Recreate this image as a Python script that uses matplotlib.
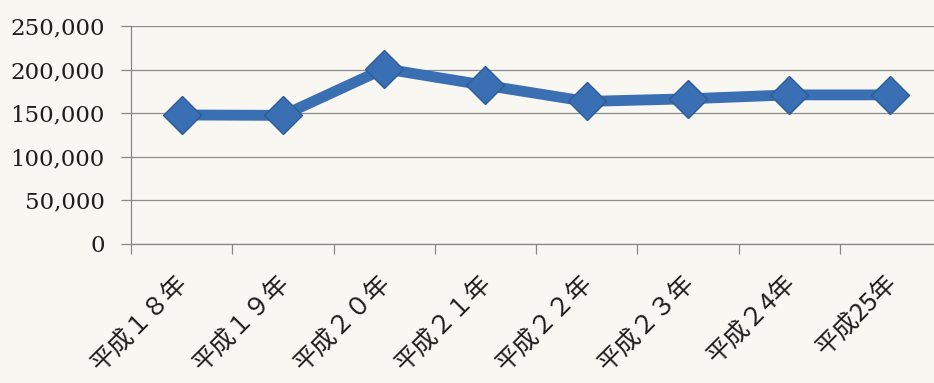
import matplotlib
matplotlib.use("Agg")
from matplotlib import pyplot as plt
from matplotlib import transforms
import numpy as np

years = ["平成１８年", "平成１９年", "平成２０年", "平成２１年",
         "平成２２年", "平成２３年", "平成２4年", "平成25年"]
counts = [148000, 147500, 201000, 182000, 163500, 166500, 171000, 171000]
yticks = [0, 50000, 100000, 150000, 200000, 250000]

paper = "#f8f7f1"
blue = "#3b6fb3"

fig = plt.figure(figsize=(9.34, 3.83), dpi=100, facecolor=paper)
ax = fig.add_axes([131/934, 139/383, 810/934, 218/383])
ax.set_facecolor(paper)

x = np.arange(len(years))
ax.plot(x, counts, color=blue, lw=7.8, solid_joinstyle="round", zorder=3)
ax.plot(x, counts, ls="none", marker="D", ms=19, mfc=blue,
        mec="#2c5b98", mew=1.0, zorder=4)

ax.set_xlim(-0.5, len(years) - 0.5)
ax.set_ylim(0, 250000)
ax.set_yticks(yticks)
ax.set_yticklabels([f"{v:,}" for v in yticks], family="DejaVu Serif",
                   fontsize=16.5, color="#1e1e1e")
ax.grid(axis="y", color="#8c8c8c", lw=0.9)
ax.set_axisbelow(True)

# category ticks sit between the labels, like a spreadsheet chart
ax.set_xticks(np.arange(len(years) + 1) - 0.5)
ax.set_xticklabels([])
ax.set_xticks(x, minor=True)
ax.set_xticklabels(years, minor=True, rotation=45, ha="right", va="top",
                   rotation_mode="anchor",
                   family=["Noto Sans CJK JP", "DejaVu Sans"],
                   fontsize=18, color="#1e1e1e")
ax.tick_params(axis="x", which="major", length=7, color="#888888", width=0.9)
ax.tick_params(axis="x", which="minor", length=0, pad=17)
ax.tick_params(axis="y", length=7, color="#888888", width=0.9, pad=12)

# nudge the slanted labels a little to the lower left
shift = transforms.ScaledTranslation(-7/100, -2/100, fig.dpi_scale_trans)
for lab in ax.get_xticklabels(minor=True):
    lab.set_transform(lab.get_transform() + shift)

for side in ["top", "right"]:
    ax.spines[side].set_visible(False)
for side in ["left", "bottom"]:
    ax.spines[side].set_color("#888888")
    ax.spines[side].set_linewidth(0.9)

fig.savefig("out.png", dpi=100, facecolor=paper)
